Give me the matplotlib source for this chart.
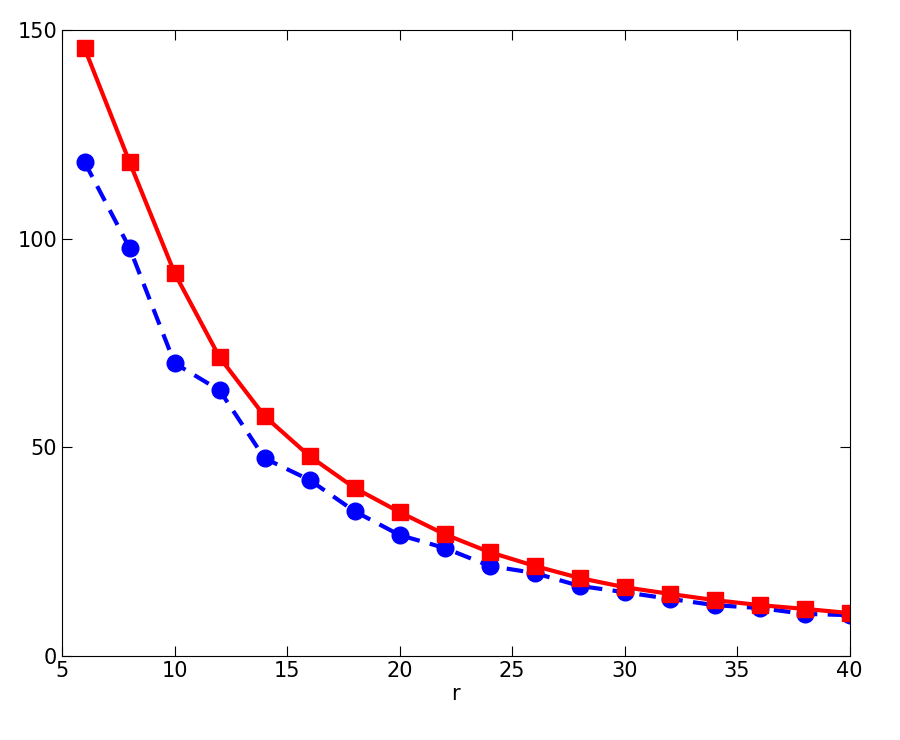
import matplotlib
matplotlib.use("Agg")
import matplotlib.pyplot as plt

r = [6, 8, 10, 12, 14, 16, 18, 20, 22, 24, 26, 28, 30, 32, 34, 36, 38, 40]
red_vals = [145.7, 118.4, 91.8, 71.6, 57.5, 47.9, 40.3, 34.5, 29.2, 24.9,
            21.6, 18.7, 16.5, 14.9, 13.4, 12.2, 11.3, 10.3]
blue_vals = [118.4, 97.8, 70.2, 63.7, 47.4, 42.2, 34.7, 29.0, 25.9, 21.6,
             19.9, 16.8, 15.3, 13.7, 12.2, 11.5, 10.1, 9.8]
xticks = [5, 10, 15, 20, 25, 30, 35, 40]
yticks = [0, 50, 100, 150]

fig = plt.figure(figsize=(9, 7.4), dpi=100)
ax = fig.add_axes([0.069, 0.1135, 0.875, 0.8455])

ax.plot(r, blue_vals, "--o", color="blue", linewidth=3, markersize=12,
        dashes=(4, 2.5))
ax.plot(r, red_vals, "-s", color="red", linewidth=3, markersize=12)

ax.set_xlim(5, 40)
ax.set_ylim(0, 150)
ax.set_xticks(xticks)
ax.set_yticks(yticks)
ax.tick_params(direction="in", top=True, right=True, labelsize=15, length=7)
ax.set_xlabel("r", fontsize=15, labelpad=2)

fig.savefig("out.png")
